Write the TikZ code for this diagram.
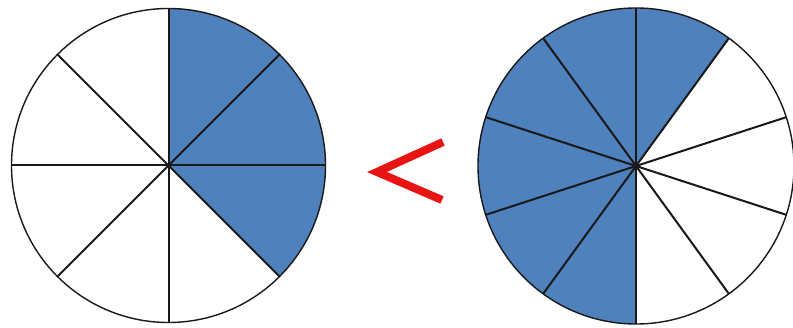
\documentclass[tikz,border=0pt]{standalone}
\usetikzlibrary{calc}
\definecolor{pieblue}{HTML}{4F81BD}
\definecolor{ltred}{RGB}{232,20,20}
\begin{document}
\begin{tikzpicture}[x=1pt,y=1pt,
  spoke/.style={line width=2pt, draw=black!90},
  rim/.style={line width=1.4pt, draw=black!90},
  shade/.style={fill=pieblue}]
\useasboundingbox (0,0) rectangle (793,327);
\fill[white] (0,0) rectangle (793,327);
% left circle: 8 slices, 3 shaded
\coordinate (L) at (168.5,161.5);
\fill[shade] (L) -- ++(90:157) arc[start angle=90, end angle=-45, radius=157] -- cycle;
\foreach \a in {0,45,90,135} {
  \draw[spoke] ($(L)+(\a:157)$) -- ($(L)+(\a+180:157)$);
}
\draw[rim] (L) circle[radius=157];
% right circle: 10 slices, 6 shaded
\coordinate (R) at (636,161);
\fill[shade] (R) -- ++(54:158) arc[start angle=54, end angle=270, radius=158] -- cycle;
\foreach \a in {18,54,90,126,162} {
  \draw[spoke] ($(R)+(\a:158)$) -- ($(R)+(\a+180:158)$);
}
\draw[rim] (R) circle[radius=158];
% less-than sign
\coordinate (t) at (443,185);
\coordinate (v) at (377,155);
\coordinate (b) at (442,127);
\draw[ltred, line width=8pt, line join=miter] (t) -- (v) -- (b);
\end{tikzpicture}
\end{document}
